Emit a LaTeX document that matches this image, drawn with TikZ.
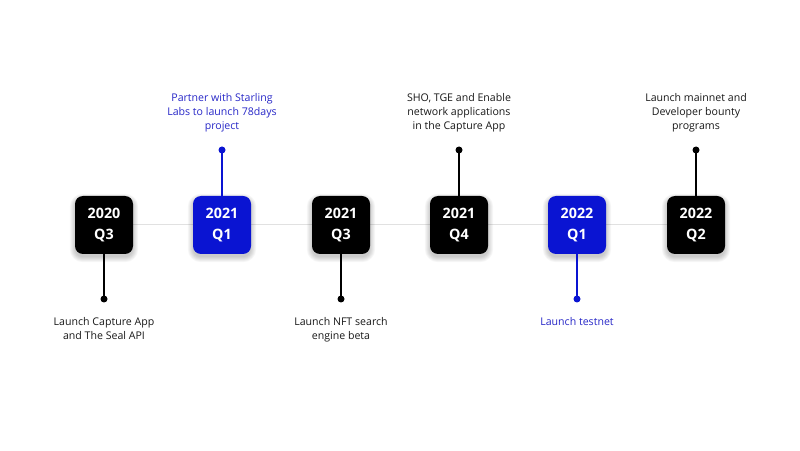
\documentclass[tikz,border=0pt]{standalone}
\usepackage{fontspec}
\setmainfont{Open Sans}
\usetikzlibrary{backgrounds}
\definecolor{qblue}{RGB}{10,20,210}
\definecolor{tblue}{RGB}{40,40,200}
\definecolor{tline}{RGB}{225,225,225}
\definecolor{tdark}{RGB}{25,25,25}
\tikzset{
  qbox/.style={fill=black, rounded corners=8pt, minimum width=58pt, minimum height=58pt,
    text=white, align=center, inner sep=0pt,
    font=\fontsize{14.3}{21}\selectfont\bfseries},
  bbox/.style={qbox, fill=qblue},
  stem/.style={line width=1.4pt, draw=black},
  bstem/.style={stem, draw=qblue},
  dotc/.style={circle, fill=black, inner sep=0pt, minimum size=7pt},
  bdotc/.style={dotc, fill=qblue},
  lab/.style={align=center, inner sep=0pt, text=tdark, font=\fontsize{10.6}{14}\selectfont},
  blab/.style={lab, text=tblue},
  shade1/.style={fill=black, opacity=0.035},
}
\begin{document}
\begin{tikzpicture}[x=1pt,y=1pt]
\useasboundingbox (0,0) rectangle (800,450);
\node[qbox] (b1) at (104,225) {2020\\Q3};
\node[bbox] (b2) at (222,225) {2021\\Q1};
\node[qbox] (b3) at (341,225) {2021\\Q3};
\node[qbox] (b4) at (459,225) {2021\\Q4};
\node[bbox] (b5) at (577,225) {2022\\Q1};
\node[qbox] (b6) at (696,225) {2022\\Q2};
\begin{scope}[on background layer]
\fill[white] (0,0) rectangle (800,450);
\draw[tline, line width=1pt] (b1.east) -- (b2.west);
\draw[tline, line width=1pt] (b2.east) -- (b3.west);
\draw[tline, line width=1pt] (b3.east) -- (b4.west);
\draw[tline, line width=1pt] (b4.east) -- (b5.west);
\draw[tline, line width=1pt] (b5.east) -- (b6.west);
\foreach \b in {b1,b2,b3,b4,b5,b6}{
  \foreach \k in {0,1,2,3,4,5}{
    \fill[shade1, rounded corners={8pt+\k pt}] ([shift={(-\k pt,-\k pt-3pt)}]\b.south west) rectangle ([shift={(\k pt,\k pt-3pt)}]\b.north east);
  }
}
\end{scope}
% dots
\node[dotc] (d1) at (104,151) {};
\node[bdotc] (d2) at (222,300) {};
\node[dotc] (d3) at (341,151) {};
\node[dotc] (d4) at (459,300) {};
\node[bdotc] (d5) at (577,151) {};
\node[dotc] (d6) at (696,300) {};
\draw[stem] (b1.south) -- (d1.center);
\draw[bstem] (b2.north) -- (d2.center);
\draw[stem] (b3.south) -- (d3.center);
\draw[stem] (b4.north) -- (d4.center);
\draw[bstem] (b5.south) -- (d5.center);
\draw[stem] (b6.north) -- (d6.center);
% labels
\node[lab, anchor=north] (l1) at (104,133) {Launch Capture App\\and The Seal API};
\node[blab, anchor=south] (l2) at (222,318) {Partner with Starling\\Labs to launch 78days\\project};
\node[lab, anchor=north] (l3) at (341,133) {Launch NFT search\\engine beta};
\node[lab, anchor=south] (l4) at (459,318) {SHO, TGE and Enable\\network applications\\in the Capture App};
\node[blab, anchor=north] (l5) at (577,133) {Launch testnet};
\node[lab, anchor=south] (l6) at (696,318) {Launch mainnet and\\Developer bounty\\programs};
\end{tikzpicture}
\end{document}
